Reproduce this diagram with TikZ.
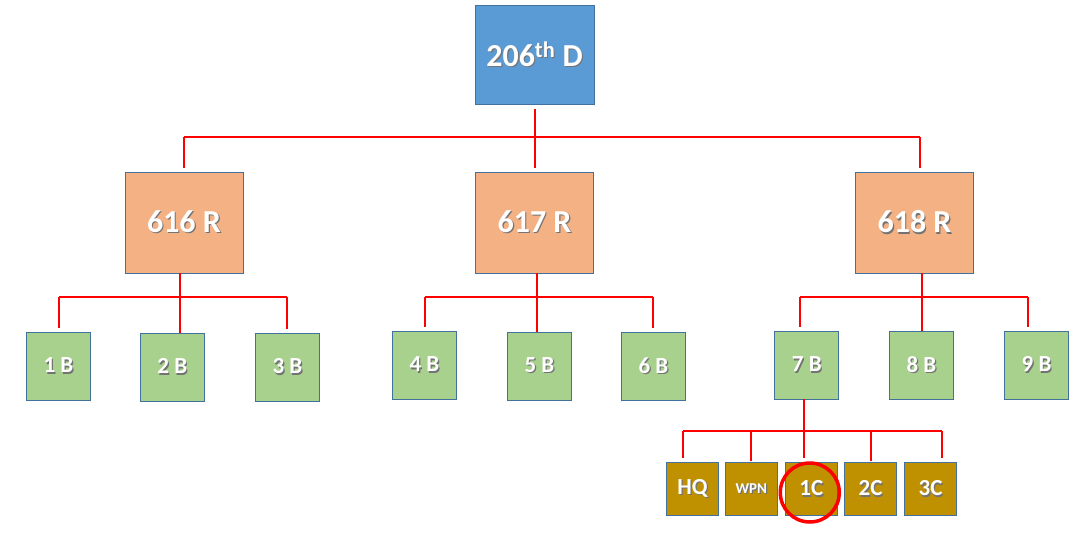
\documentclass[tikz,border=0pt]{standalone}
\usepackage{fontspec}
\setmainfont{Carlito}
\usepackage{xcolor}
\usetikzlibrary{positioning}

\definecolor{divblue}{HTML}{5B9BD5}
\definecolor{regsalmon}{HTML}{F4B183}
\definecolor{batgreen}{HTML}{A9D18E}
\definecolor{cogold}{HTML}{BF9000}
\definecolor{edgeblue}{HTML}{41719C}

% white text with a soft shadow
\newcommand{\shd}[1]{\leavevmode\rlap{\kern1.2pt\raisebox{-1.2pt}{\color{black!55}#1}}#1}

\tikzset{
  unit/.style={draw=edgeblue, line width=0.8pt, text=white, font=\bfseries, inner sep=0pt},
  divbox/.style={unit, fill=divblue, minimum width=119pt, minimum height=99pt, font=\bfseries\fontsize{32}{36}\selectfont},
  regbox/.style={unit, fill=regsalmon, minimum width=118pt, minimum height=101pt, font=\bfseries\fontsize{32}{36}\selectfont},
  batbox/.style={unit, fill=batgreen, minimum width=64pt, minimum height=68pt, font=\bfseries\fontsize{23}{26}\selectfont},
  cobox/.style={unit, fill=cogold, minimum width=52pt, minimum height=53pt, font=\bfseries\fontsize{23}{26}\selectfont},
  link/.style={draw=red, line width=2pt},
  drop/.style={link, shorten >=4pt}
}

\begin{document}
\begin{tikzpicture}[x=1pt, y=-1pt]
\useasboundingbox (0,0) rectangle (1086,534);

% division
\node[divbox] (div) at (534.5,54.5) {\shd{206\textsuperscript{th} D}};

% regiments
\node[regbox] (r616) at (184,222.5) {\shd{616 R}};
\node[regbox] (r617) at (534.5,222.5) {\shd{617 R}};
\node[regbox] (r618) at (914.5,222.5) {\shd{618 R}};

% battalions
\foreach \b/\x/\y in {1/58.5/366, 2/172.3/367, 3/287.5/367,
                      4/424.5/365, 5/539.5/366, 6/653.5/366,
                      7/806.8/365, 8/921.5/365, 9/1036.5/365}
  \node[batbox] (b\b) at (\x,\y) {\shd{\b{} B}};

% companies of 7 B
\node[cobox] (hq) at (692.5,489) {\shd{HQ}};
\node[cobox, font=\bfseries\fontsize{15}{17}\selectfont] (wpn) at (751.3,489) {\shd{WPN}};
\node[cobox] (c1) at (811.3,489) {\shd{1C}};
\node[cobox] (c2) at (870.5,489) {\shd{2C}};
\node[cobox] (c3) at (930.5,489) {\shd{3C}};

% division to regiments
\coordinate (busDL) at (184,137);
\coordinate (busDR) at (920,137);
\draw[link, shorten <=5pt, shorten >=4pt] (div.south) -- (r617.north);
\draw[link] (busDL) -- (busDR);
\draw[drop] (busDL) -- (busDL |- r616.north);
\draw[drop] (busDR) -- (busDR |- r618.north);

% regiments to battalions
\coordinate (bus1L) at (59,297);
\coordinate (bus1R) at (287,297);
\draw[link] (r616.south -| 180,0) -- (b2.north -| 180,0);
\draw[link] (bus1L) -- (bus1R);
\draw[drop] (bus1L) -- (bus1L |- b1.north);
\draw[drop] (bus1R) -- (bus1R |- b3.north);

\coordinate (bus2L) at (425,297);
\coordinate (bus2R) at (653,297);
\draw[link] (r617.south -| 537,0) -- (b5.north -| 537,0);
\draw[link] (bus2L) -- (bus2R);
\draw[drop] (bus2L) -- (bus2L |- b4.north);
\draw[drop] (bus2R) -- (bus2R |- b6.north);

\coordinate (bus3L) at (800,297);
\coordinate (bus3R) at (1028,297);
\draw[link] (r618.south -| 922,0) -- (b8.north -| 922,0);
\draw[link] (bus3L) -- (bus3R);
\draw[drop] (bus3L) -- (bus3L |- b7.north);
\draw[drop] (bus3R) -- (bus3R |- b9.north);

% 7 B to companies
\coordinate (busCL) at (683,431);
\coordinate (busCR) at (942,431);
\draw[link, shorten >=4pt] (b7.south -| 804,0) -- (c1.north -| 804,0);
\draw[link] (busCL) -- (busCR);
\draw[drop] (busCL) -- (busCL |- hq.north);
\draw[link, shorten >=1pt] (hq.north -| wpn.north) ++(0,-31) -- (wpn.north);
\draw[link, shorten >=1pt] (c2.north) ++(0,-31) -- (c2.north);
\draw[drop] (busCR) -- (busCR |- c3.north);

% marked company
\draw[red, line width=3.5pt] (c1.center) ++(-1.5,3.5) circle (29.5);

\end{tikzpicture}
\end{document}
